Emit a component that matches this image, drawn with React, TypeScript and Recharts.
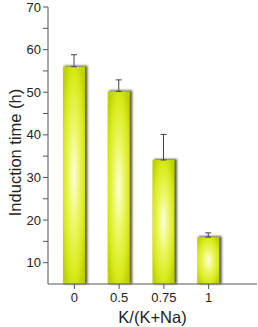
import { BarChart, Bar, XAxis, YAxis, ErrorBar } from 'recharts';

const ratios = ['0', '0.5', '0.75', '1'];
const inductionTime = [56, 50.2, 34.1, 16];
const upperError = [2.8, 2.7, 6, 1];
const yTicks = [10, 15, 20, 25, 30, 35, 40, 45, 50, 55, 60, 65, 70];

const data = ratios.map((r, i) => ({
  ratio: r,
  time: inductionTime[i],
  err: [0, upperError[i]],
}));

const font = '"Liberation Sans", Arial, sans-serif';

// glossy yellow-green bar with a soft dark shadow on the right/top
const GlossyBar = (props: any) => {
  const { x, y, width, height } = props;
  if (height <= 0) return null;
  return (
    <g>
      <rect x={x + 1.5} y={y - 1} width={width + 1} height={height + 1} fill="#2a2a10" opacity={0.75} filter="url(#barBlur)" />
      <rect x={x} y={y} width={width} height={height} fill="url(#barGlow)" />
    </g>
  );
};

const YLabel = (props: any) => {
  const { viewBox } = props;
  const cx = viewBox.x + 15;
  const cy = viewBox.y + viewBox.height / 2 + 7;
  return (
    <text
      x={cx}
      y={cy}
      transform={`rotate(-90, ${cx}, ${cy})`}
      textAnchor="middle"
      dominantBaseline="central"
      fill="#222"
      fontSize={16.5}
      fontFamily={font}
    >
      Induction time (h)
    </text>
  );
};

export default function App() {
  return (
    <div style={{ position: 'absolute', left: 0, top: 0, background: '#fff' }}>
      <BarChart
        width={258}
        height={327}
        data={data}
        margin={{ top: 7, right: 1, bottom: 0, left: 0 }}
        barSize={22}
      >
        <defs>
          <radialGradient id="barGlow" cx="50%" cy="50%" r="62%">
            <stop offset="0%" stopColor="#fbffe2" />
            <stop offset="35%" stopColor="#eef86c" />
            <stop offset="75%" stopColor="#d8ea1a" />
            <stop offset="100%" stopColor="#bed200" />
          </radialGradient>
          <filter id="barBlur" x="-20%" y="-5%" width="140%" height="110%">
            <feGaussianBlur stdDeviation="0.8" />
          </filter>
        </defs>
        <XAxis
          dataKey="ratio"
          height={43}
          padding={{ left: 4, right: 26 }}
          tickSize={5}
          tickMargin={4}
          stroke="#555"
          tick={{ fill: '#222', fontSize: 13, fontFamily: font }}
          label={{ value: 'K/(K+Na)', position: 'insideBottom', offset: 4, fill: '#222', fontSize: 16.5, fontFamily: font }}
        />
        <YAxis
          width={48}
          domain={[5, 70]}
          ticks={yTicks}
          interval={0}
          tickSize={5}
          tickMargin={2}
          stroke="#555"
          tickFormatter={(v: number) => (v % 10 === 0 ? String(v) : '')}
          tick={{ fill: '#222', fontSize: 13, fontFamily: font }}
          label={<YLabel />}
        />
        <Bar dataKey="time" shape={GlossyBar} isAnimationActive={false}>
          <ErrorBar dataKey="err" width={3} stroke="#444" strokeWidth={1} direction="y" />
        </Bar>
      </BarChart>
    </div>
  );
}
